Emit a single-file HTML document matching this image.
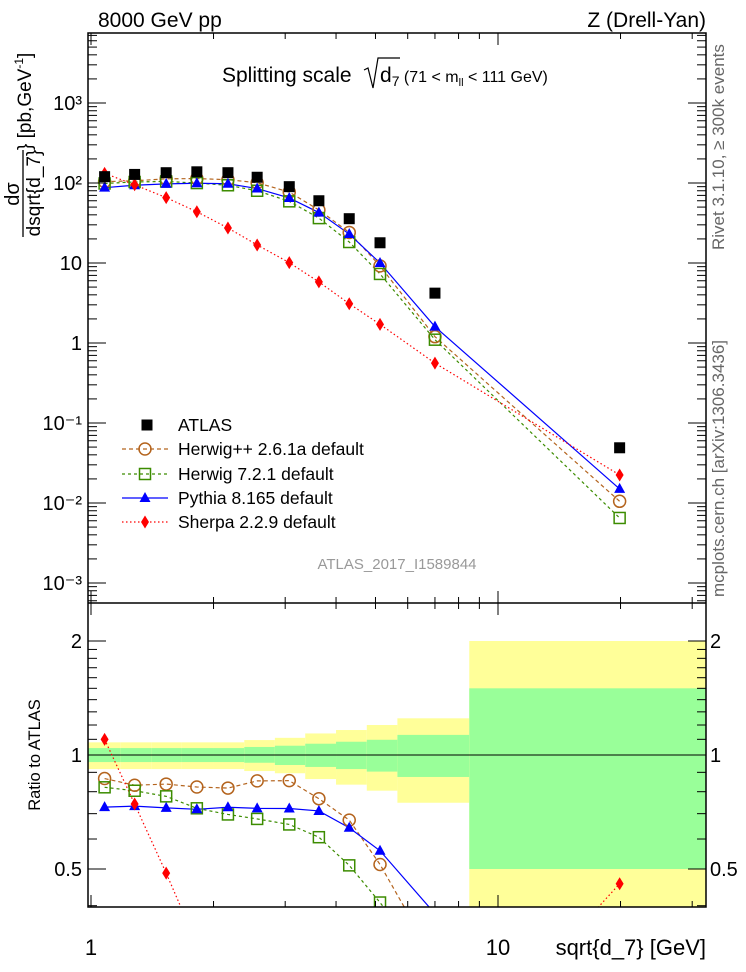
<!DOCTYPE html>
<html><head><meta charset="utf-8">
<style>
html,body{margin:0;padding:0;background:#fff;overflow:hidden;width:746px;height:972px;}
svg{display:block;font-family:"Liberation Sans",Arial,sans-serif;}
</style></head>
<body>
<svg id="chart" width="746" height="972" viewBox="0 0 746 972" xmlns="http://www.w3.org/2000/svg">
<defs>
<clipPath id="clipTop"><rect x="88" y="33" width="618" height="570"/></clipPath>
<clipPath id="clipBot"><rect x="88" y="603" width="618" height="304"/></clipPath>
</defs>
<g id="bands" clip-path="url(#clipBot)"></g>
<g id="topMarks" clip-path="url(#clipTop)"></g>
<g id="botMarks" clip-path="url(#clipBot)"></g>
<g id="axes"></g>
<text x="98" y="27" font-size="21">8000 GeV pp</text>
<text x="706" y="27" font-size="21" text-anchor="end">Z (Drell-Yan)</text>
<g>
<text x="222" y="82" font-size="21">Splitting scale</text>
<path d="M364 70 L368 68 L373 88 L378 58 L400 58" fill="none" stroke="#000" stroke-width="1.2"/>
<text x="380" y="82" font-size="21">d<tspan font-size="14" dy="4">7</tspan><tspan font-size="16" dy="-4"> (71 &lt; m</tspan><tspan font-size="11" dy="4">ll</tspan><tspan font-size="16" dy="-4"> &lt; 111 GeV)</tspan></text>
</g>
<text x="397" y="569" font-size="15" fill="#999" text-anchor="middle">ATLAS_2017_I1589844</text>
<text transform="translate(724,250) rotate(-90)" font-size="17" fill="#666">Rivet 3.1.10, ≥ 300k events</text>
<text transform="translate(724,597) rotate(-90)" font-size="17" fill="#666">mcplots.cern.ch [arXiv:1306.3436]</text>
<g transform="rotate(-90)">
<text x="-194" y="19" font-size="20" text-anchor="middle">dσ</text>
<line x1="-237" y1="23" x2="-150" y2="23" stroke="#000" stroke-width="1.3"/>
<text x="-193" y="40" font-size="19" text-anchor="middle">dsqrt{d_7}</text>
<text x="-150" y="31" font-size="19">} [pb,GeV<tspan font-size="12" dy="-8">-1</tspan><tspan dy="8">]</tspan></text>
</g>
<text transform="translate(40,755) rotate(-90)" font-size="16.5" text-anchor="middle">Ratio to ATLAS</text>
<text x="706" y="955" font-size="22" text-anchor="end">sqrt{d_7} [GeV]</text>
<g id="legend"></g>
</svg>
<script>
const xValues = [1.08, 1.28, 1.53, 1.82, 2.17, 2.56, 3.07, 3.63, 4.31, 5.13, 7.0, 19.9];
const atlas   = [120, 128, 134.5, 138, 134.5, 118, 90, 60, 35.8, 17.9, 4.2, 0.049];
const herwigpp= [104, 106.5, 112.7, 113.6, 110, 100.8, 77, 46, 24.1, 9.2, 1.2, 0.0105];
const herwig7 = [98.6, 103, 104.6, 99.8, 93.7, 80, 59, 36.4, 18.3, 7.3, 1.1, 0.0065];
const pythia  = [87.4, 93.8, 97.5, 99.2, 97.9, 85.3, 65, 42.7, 23, 10, 1.6, 0.015];
const sherpa  = [132, 95, 65.6, 43.7, 27.4, 16.8, 10.1, 5.8, 3.1, 1.71, 0.56, 0.0224];
const binEdges = [0.98, 1.18, 1.41, 1.67, 2.0, 2.38, 2.83, 3.36, 4.0, 4.76, 5.66, 8.5, 33];
const yellowHi = [1.08, 1.08, 1.08, 1.08, 1.08, 1.095, 1.11, 1.14, 1.164, 1.2, 1.25, 2.0];
const greenHi  = [1.043, 1.043, 1.043, 1.043, 1.043, 1.05, 1.058, 1.071, 1.084, 1.097, 1.13, 1.5];
const greenLo  = [0.958, 0.958, 0.958, 0.958, 0.958, 0.954, 0.941, 0.93, 0.918, 0.904, 0.875, 0.5];
const yellowLo = [0.918, 0.918, 0.918, 0.918, 0.918, 0.907, 0.895, 0.864, 0.835, 0.805, 0.748, 0.3];
const yTickLabels = ["10⁻³","10⁻²","10⁻¹","1","10","10²","10³"];

const NS="http://www.w3.org/2000/svg";
const X=v=>91+407*Math.log10(v);
const Y=v=>343-80*Math.log10(v);
const R=r=>755-114*Math.log2(r);
function mk(tag,attrs,parent){const e=document.createElementNS(NS,tag);for(const k in attrs)e.setAttribute(k,attrs[k]);parent.appendChild(e);return e;}
const bands=document.getElementById('bands'),topG=document.getElementById('topMarks'),botG=document.getElementById('botMarks'),axes=document.getElementById('axes'),leg=document.getElementById('legend');

for(let i=0;i<yellowHi.length;i++){
  const x0=X(binEdges[i]),x1=X(binEdges[i+1]);
  let r=mk('rect',{x:x0,y:R(yellowHi[i]),width:x1-x0,height:R(yellowLo[i])-R(yellowHi[i]),fill:'#ffff99'},bands);
  
  
  r=mk('rect',{x:x0,y:R(greenHi[i]),width:x1-x0,height:R(greenLo[i])-R(greenHi[i]),fill:'#99ff99'},bands);
  
  
}
mk('line',{x1:88,x2:706,y1:R(1),y2:R(1),stroke:'#000','stroke-width':1},bands);

function marker(type,color,cx,cy,g){
  let e;
  if(type==='sq') e=mk('rect',{x:cx-5.5,y:cy-5.5,width:11,height:11,fill:'#000'},g);
  else if(type==='circ') e=mk('circle',{cx:cx,cy:cy,r:6,fill:'none',stroke:color,'stroke-width':1.5},g);
  else if(type==='osq') e=mk('rect',{x:cx-5.5,y:cy-5.5,width:11,height:11,fill:'none',stroke:color,'stroke-width':1.5},g);
  else if(type==='tri') e=mk('polygon',{points:`${cx},${cy-6} ${cx-5.5},${cy+4} ${cx+5.5},${cy+4}`,fill:color},g);
  else e=mk('polygon',{points:`${cx},${cy-6.5} ${cx-4},${cy} ${cx},${cy+6.5} ${cx+4},${cy}`,fill:color},g);
  return e;
}
const series=[
  {name:'herwigpp',data:herwigpp,color:'#b4641e',dash:'4,3',type:'circ',label:'Herwig++ 2.6.1a default'},
  {name:'herwig7',data:herwig7,color:'#3c8c00',dash:'3,3',type:'osq',label:'Herwig 7.2.1 default'},
  {name:'pythia',data:pythia,color:'#0000ff',dash:'',type:'tri',label:'Pythia 8.165 default'},
  {name:'sherpa',data:sherpa,color:'#ff0000',dash:'1.5,2.5',type:'dia',label:'Sherpa 2.2.9 default'}
];
series.forEach(s=>{
  const ptsT=s.data.map((v,i)=>X(xValues[i])+','+Y(v)).join(' ');
  let l=mk('polyline',{points:ptsT,fill:'none',stroke:s.color,'stroke-width':1.2,'stroke-dasharray':s.dash},topG);
  
  
  const ptsB=s.data.map((v,i)=>X(xValues[i])+','+R(v/atlas[i])).join(' ');
  l=mk('polyline',{points:ptsB,fill:'none',stroke:s.color,'stroke-width':1.2,'stroke-dasharray':s.dash},botG);
  
  
});
series.forEach(s=>{
  s.data.forEach((v,i)=>{
    let m=marker(s.type,s.color,X(xValues[i]),Y(v),topG);
    
    
    m=marker(s.type,s.color,X(xValues[i]),R(v/atlas[i]),botG);
    
    
  });
});
atlas.forEach((v,i)=>{
  const m=marker('sq','#000',X(xValues[i]),Y(v),topG);
  
  
});

mk('rect',{x:88,y:33,width:618,height:874,fill:'none',stroke:'#000','stroke-width':1.5},axes);
mk('line',{x1:88,x2:706,y1:603,y2:603,stroke:'#000','stroke-width':1.5},axes);
[1,2,3,4,5,6,7,8,9,10,20,30].forEach(v=>{
  const x=X(v); if(x<88||x>706)return;
  const len=(v===1||v===10)?12:6;
  [33,603].forEach(y0=>mk('line',{x1:x,x2:x,y1:y0,y2:y0+len,stroke:'#000'},axes));
  [603,907].forEach(y0=>mk('line',{x1:x,x2:x,y1:y0,y2:y0-len,stroke:'#000'},axes));
});
let t=mk('text',{x:X(1),y:955,'font-size':22,'text-anchor':'middle'},axes);t.textContent='1';


t=mk('text',{x:X(10),y:955,'font-size':22,'text-anchor':'middle'},axes);t.textContent='10';


for(let e=-4;e<=3;e++){
  for(let m=1;m<10;m++){
    const v=m*Math.pow(10,e);const y=Y(v);
    if(y<33||y>603)continue;
    const len=m===1?18:9;
    mk('line',{x1:88,x2:88+len,y1:y,y2:y,stroke:'#000'},axes);
    mk('line',{x1:706,x2:706-len,y1:y,y2:y,stroke:'#000'},axes);
  }
}
yTickLabels.forEach((lab,i)=>{
  const y=Y(Math.pow(10,i-3));
  const tt=mk('text',{x:82,y:y+7,'font-size':20,'text-anchor':'end'},axes);
  tt.textContent=lab;
  
  
});
[0.4,0.5,0.6,0.7,0.8,0.9,1,1.1,1.2,1.3,1.4,1.5,1.6,1.7,1.8,1.9,2].forEach(r=>{
  const y=R(r); if(y<603||y>907)return;
  const len=(r===0.5||r===1||r===2)?18:9;
  mk('line',{x1:88,x2:88+len,y1:y,y2:y,stroke:'#000'},axes);
  mk('line',{x1:706,x2:706-len,y1:y,y2:y,stroke:'#000'},axes);
});
[[2,'2'],[1,'1'],[0.5,'0.5']].forEach(p=>{
  let a=mk('text',{x:82,y:R(p[0])+7,'font-size':20,'text-anchor':'end'},axes);a.textContent=p[1];
  
  
  a=mk('text',{x:710,y:R(p[0])+7,'font-size':20},axes);a.textContent=p[1];
  
  
});
const ly=[425,449,474,498,522];
marker('sq','#000',147,ly[0],leg);
let lt=mk('text',{x:178,y:ly[0]+6,'font-size':17.5},leg);lt.textContent='ATLAS';


series.forEach((s,i)=>{
  const y=ly[i+1];
  mk('line',{x1:122,x2:168,y1:y,y2:y,stroke:s.color,'stroke-width':1.2,'stroke-dasharray':s.dash},leg);
  marker(s.type,s.color,145,y,leg);
  const tx=mk('text',{x:178,y:y+6,'font-size':17.5},leg);tx.textContent=s.label;
  
  
});
</script>
</body></html>
